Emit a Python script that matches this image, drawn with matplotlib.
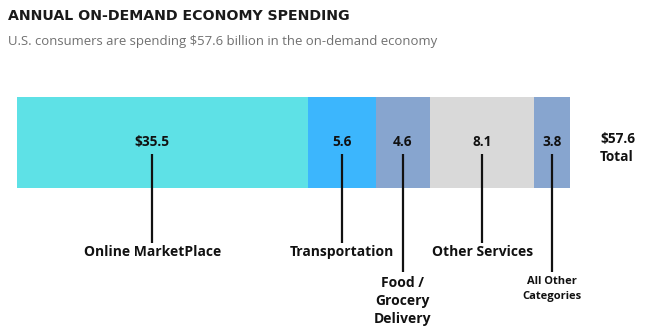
import matplotlib.pyplot as plt

# data
categories = ["Online MarketPlace", "Transportation", "Food /\nGrocery\nDelivery",
              "Other Services", "All Other\nCategories"]
values = [35.5, 5.6, 4.6, 8.1, 3.8]
value_labels = ["$35.5", "5.6", "4.6", "8.1", "3.8"]
# segment lengths as drawn in the original graphic (not to scale)
drawn_widths = [30.3, 7.1, 5.6, 10.9, 3.7]
colors = ["#5ee1e6", "#3cb6fd", "#87a5cf", "#d9d9d9", "#87a5cf"]
total = sum(values)

plt.rcParams['font.family'] = ['Open Sans', 'DejaVu Sans']

fig = plt.figure(figsize=(6.55, 3.35), dpi=100)
ax = fig.add_axes([0, 0, 1, 1])
px = 9.6  # pixels per unit
ax.set_xlim(-17 / px, (655 - 17) / px)
ax.set_ylim(335, 0)
ax.axis('off')

lefts = []
acc = 0
for w in drawn_widths:
    lefts.append(acc)
    acc += w
ax.barh(142.5, drawn_widths, left=lefts, height=91, color=colors, linewidth=0)

centers = [l + w / 2 for l, w in zip(lefts, drawn_widths)]
centers[0] -= 1.05
line_end = [243, 243, 272, 243, 272]
label_y = [252, 252, 301, 252, 289]
label_size = [10, 10, 10, 10, 8]

for i in range(len(values)):
    ax.text(centers[i], 142, value_labels[i], ha='center', va='center',
            fontsize=9.8, fontweight='bold', color='#111111')
    ax.plot([centers[i], centers[i]], [154, line_end[i]], color='#111111', lw=1.6,
            solid_capstyle='butt')
    ax.text(centers[i], label_y[i], categories[i], ha='center', va='center',
            fontsize=label_size[i], fontweight='bold', color='#111111',
            linespacing=1.4)

ax.text((600 - 17) / px, 148, "$%.1f\nTotal" % total, ha='left', va='center',
        fontsize=9.8, fontweight='bold', color='#111111', linespacing=1.45)

fig.text(8 / 655, 1 - 16 / 335, "ANNUAL ON-DEMAND ECONOMY SPENDING", ha='left',
         va='center', fontsize=10.2, fontweight='bold', family='DejaVu Sans',
         color='#1a1a1a')
fig.text(8 / 655, 1 - 42 / 335,
         "U.S. consumers are spending $57.6 billion in the on-demand economy",
         ha='left', va='center', fontsize=9.45, color='#707070')

fig.savefig("out.png", dpi=100)
